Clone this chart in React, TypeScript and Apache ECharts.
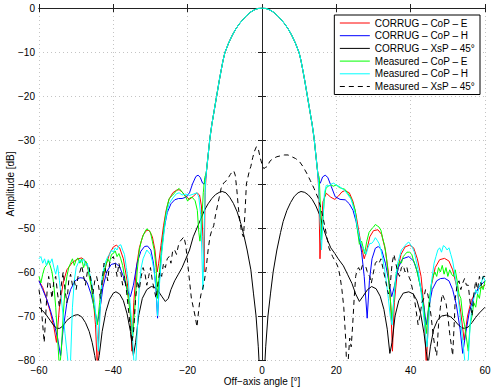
import React, { useEffect, useRef } from "react";
import * as echarts from "echarts";

const X_TICKS = [-60, -40, -20, 0, 20, 40, 60];
const Y_TICKS = [-80, -70, -60, -50, -40, -30, -20, -10, 0];

const SERIES_NAMES = [
  "CORRUG \u2013 CoP \u2013 E",
  "CORRUG \u2013 CoP \u2013 H",
  "CORRUG \u2013 XsP \u2013 45\u00b0",
  "Measured \u2013 CoP \u2013 E",
  "Measured \u2013 CoP \u2013 H",
  "Measured \u2013 XsP \u2013 45\u00b0",
];

// main beam (co-polar), common to the four co-polar curves
const mainBeam: number[][] = [[-15,-37.5],[-14.5,-33.5],[-14,-29.5],[-13.5,-26.5],[-13,-24],[-12.5,-21.5],[-12,-19],[-11.5,-16.5],[-11,-14.2],[-10.5,-12],[-10,-10.2],[-9,-8],[-8,-6.2],[-7,-4.7],[-6,-3.5],[-5,-2.5],[-4,-1.6],[-3,-0.9],[-2,-0.4],[-1,-0.1],[0,0],[1,-0.1],[2,-0.4],[3,-0.9],[4,-1.6],[5,-2.5],[6,-3.5],[7,-4.7],[8,-6.2],[9,-8],[10,-10.2],[10.5,-12],[11,-14.2],[11.5,-16.5],[12,-19],[12.5,-21.5],[13,-24],[13.5,-26.5],[14,-29.5],[14.5,-33.5],[15,-37.5]];

const corrugEL: number[][] = [[-60,-62],[-59,-63.5],[-58,-66],[-57,-69],[-56,-72.5],[-55.3,-76],[-54.5,-68],[-53.5,-62.5],[-52.5,-59.5],[-51,-57.8],[-49.5,-57],[-48.5,-56.8],[-47.5,-57.5],[-46.5,-60],[-45.5,-65],[-44.8,-72],[-44.3,-82],[-43.7,-70],[-43,-63],[-42,-58.5],[-41,-55.8],[-40,-54.3],[-39.2,-53.9],[-38.3,-54.5],[-37.3,-57],[-36.3,-62],[-35.5,-68],[-35,-78],[-34.5,-67],[-33.8,-59],[-33,-54.5],[-32,-51.6],[-31,-50.5],[-30.3,-50.6],[-29.5,-52],[-28.8,-55],[-28.2,-60],[-27.8,-58],[-27.2,-54],[-26.5,-49.5],[-25.8,-46],[-25,-43.5],[-24,-42],[-23,-41.4],[-22.3,-41.3],[-21.5,-41.8],[-20.5,-42.8],[-19.5,-43.5],[-18.5,-42.8],[-17.5,-42],[-16.8,-42.5],[-16.3,-45],[-15.9,-52],[-15.6,-60],[-15.3,-42]];
const corrugER: number[][] = [[15.3,-42],[15.6,-57],[15.9,-50],[16.4,-44],[17.3,-42.1],[18.5,-43],[19.6,-43.5],[20.5,-42.8],[21.5,-41.8],[22.3,-41.5],[23.5,-42],[24.5,-44],[25.3,-47],[26,-50.5],[26.7,-54],[27.5,-57],[28.2,-55],[29,-52],[30,-50.6],[31.2,-50.4],[32.2,-51.5],[33.2,-55],[34,-60],[34.6,-67],[35.1,-78],[35.6,-67],[36.4,-60],[37.4,-56],[38.5,-54.3],[39.7,-53.9],[40.8,-54.5],[41.8,-57],[42.8,-61],[43.6,-68],[44.2,-82],[44.8,-70],[45.6,-63],[46.6,-59],[47.8,-57.2],[49.1,-56.9],[50.3,-57.5],[51.3,-59.5],[52.3,-63],[53.3,-68],[54.4,-75.5],[55.3,-70],[56.3,-66.5],[57.5,-64.5],[58.5,-63.8],[60,-63]];

const corrugHL: number[][] = [[-60,-62],[-59,-64],[-58,-66],[-57,-68.5],[-56,-71.5],[-55,-75],[-54.2,-79],[-53.5,-73],[-52.5,-67],[-51.5,-64],[-50.3,-62],[-49,-61.3],[-48,-61.4],[-47,-62.5],[-46,-65],[-45,-68.5],[-44.3,-71.7],[-43.7,-69],[-42.8,-63.5],[-41.8,-60],[-40.6,-58.3],[-39.4,-58],[-38.3,-58.8],[-37.3,-61],[-36.3,-64],[-35.4,-65.6],[-34.6,-63],[-33.6,-58],[-32.6,-55.3],[-31.6,-54.2],[-30.8,-54.1],[-29.9,-55],[-29.2,-58],[-28.6,-63],[-28.1,-70.5],[-27.6,-62],[-27,-55],[-26.3,-50],[-25.5,-46.5],[-24.5,-44.5],[-23.5,-43.6],[-22.5,-43.3],[-21.5,-43.3],[-20.5,-43],[-19.5,-42],[-18.7,-40],[-17.8,-38.3],[-17.2,-38],[-16.6,-38.5],[-16,-39.8],[-15.6,-40],[-15.3,-39.5]];
const corrugHR: number[][] = [[15.3,-39.5],[15.7,-39.8],[16.3,-38.4],[17,-38],[17.7,-38.5],[18.6,-40.5],[19.7,-42.9],[21,-43.5],[22.4,-43.6],[23.5,-44.5],[24.5,-46],[25.3,-48.5],[26,-51.5],[26.8,-55.5],[27.5,-61],[28.3,-70.5],[28.9,-62],[29.6,-57],[30.5,-54.6],[31.3,-54.2],[32.2,-55],[33.2,-58],[34.2,-62.5],[34.9,-65.6],[35.7,-63],[36.7,-59],[37.8,-57],[39.5,-56.5],[40.8,-57.5],[41.8,-60],[42.8,-64],[43.6,-68],[44.2,-72],[44.9,-68],[45.8,-64],[47,-62],[48,-61.5],[49.1,-61.4],[50.3,-62],[51.3,-64],[52.3,-67.5],[53.3,-73],[54,-78.5],[54.8,-74],[55.8,-69],[57,-65.5],[58.3,-63.5],[60,-62]];

const corrugX: number[][] = [[-60,-68],[-59,-68.8],[-58,-69.8],[-57,-71],[-56,-72.2],[-55.2,-72.8],[-54.4,-72.8],[-53.5,-72.2],[-52.5,-71],[-51.3,-70.2],[-50.3,-69.8],[-49.5,-69.7],[-48.5,-70.2],[-47.5,-71.5],[-46.5,-73.5],[-45.7,-76],[-45,-79],[-44.4,-82],[-43.8,-79],[-43,-73.5],[-42,-69],[-41,-66.2],[-40,-64.8],[-39.3,-64.5],[-38.3,-65],[-37.3,-66.5],[-36.3,-69.5],[-35.4,-73.5],[-34.6,-79],[-34,-76],[-33.2,-70],[-32.2,-66],[-31,-64],[-29.8,-63.3],[-28.8,-63.5],[-28,-64.2],[-27,-65.5],[-26,-66.7],[-25.2,-66],[-24.5,-64],[-23.5,-62],[-22.5,-60.5],[-21.5,-59],[-20.5,-57],[-19.5,-55],[-18.5,-52],[-17.5,-50],[-16.5,-48],[-15.5,-46],[-14.5,-44.5],[-13.5,-43.3],[-12.5,-42.4],[-11.5,-41.9],[-10.7,-41.7],[-9.7,-42],[-8.7,-43],[-7.7,-44.4],[-6.7,-46.3],[-5.7,-49],[-5,-51.2],[-4,-55],[-3,-59.5],[-2.3,-64.8],[-1.6,-70],[-1,-77],[-0.5,-85],[0,-95],[0.5,-85],[1,-77],[1.6,-70],[2.3,-64.8],[3,-60],[4,-55],[5,-51],[5.7,-48.5],[6.7,-46],[7.7,-44.2],[8.7,-42.8],[9.7,-42],[10.5,-41.7],[11.5,-41.9],[12.5,-42.5],[13.5,-43.5],[14.5,-45],[15.5,-47],[16.5,-50],[17.5,-52.5],[18.5,-54.5],[19.6,-55.8],[20.5,-57],[21.9,-58.6],[23,-60.5],[24.2,-62.6],[25.2,-65],[26.2,-66.7],[27.2,-65.5],[28.4,-64],[29.5,-63.3],[30.7,-63.8],[31.8,-65.5],[32.8,-68.5],[33.7,-73],[34.4,-78.5],[35,-76],[35.8,-70],[36.8,-66.5],[38,-64.8],[39.5,-64.5],[40.7,-65],[41.7,-66.5],[42.7,-69.5],[43.6,-74],[44.2,-78],[44.7,-81],[45.3,-77],[46.2,-73],[47.2,-71],[48.3,-70],[49.6,-69.8],[50.8,-70.2],[51.8,-71],[52.8,-72],[53.8,-72.7],[54.5,-72.8],[55.5,-72.5],[56.5,-71.5],[57.5,-70.3],[58.5,-69.3],[60,-68]];

const measEL: number[][] = [[-60,-61],[-59.5,-62.5],[-59,-60.5],[-58.5,-59],[-58,-58.5],[-57.5,-57.5],[-57,-58.5],[-56.5,-60],[-56,-63],[-55.5,-68],[-55,-75],[-54.5,-82],[-54,-78],[-53.5,-70],[-53,-64],[-52.5,-61],[-52,-59],[-51.5,-58],[-51,-57],[-50.5,-58.5],[-50,-57.2],[-49.5,-56.8],[-49,-58],[-48.5,-57],[-48,-59],[-47.5,-57.5],[-47,-58.2],[-46.5,-61],[-46,-63],[-45.5,-66.5],[-45,-69],[-44.3,-72],[-43.7,-67],[-43,-62],[-42.5,-60],[-42,-58.5],[-41.5,-57],[-41,-57.8],[-40.5,-56],[-40,-55.8],[-39.5,-55.2],[-39,-56.5],[-38.5,-55.8],[-38,-57],[-37.5,-58.5],[-37,-61],[-36.5,-63],[-36,-66],[-35.5,-69],[-34.8,-75],[-34.2,-68],[-33.6,-60],[-33,-55],[-32.5,-53],[-32,-51.8],[-31.5,-50.8],[-31,-50.2],[-30.5,-50.5],[-30,-51],[-29.5,-53],[-29,-55],[-28.5,-59],[-28.1,-66],[-27.6,-60],[-27,-55],[-26.5,-51],[-26,-47.5],[-25.5,-45],[-25,-43.3],[-24,-42.5],[-23,-41.5],[-22.3,-41],[-21.5,-41.8],[-20.5,-43],[-20,-43.9],[-19.5,-43.2],[-18.8,-43],[-18,-43.8],[-17.4,-46],[-17,-51],[-16.7,-53],[-16.3,-50],[-15.8,-42],[-15.4,-38.5]];
const measER: number[][] = [[15.4,-38.5],[15.7,-45],[16,-52.7],[16.4,-48],[16.8,-43],[17.2,-41],[17.8,-40.5],[18.5,-40.2],[19.2,-40.5],[20,-40.2],[20.8,-40.8],[21.5,-41],[22.3,-41.2],[23,-42],[23.8,-43],[24.5,-44.5],[25.1,-46],[25.6,-50],[26.2,-53.7],[26.8,-53],[27.6,-55.8],[28.2,-53],[28.8,-51],[29.5,-50.2],[30,-49.8],[30.5,-49.2],[31,-49.5],[31.5,-49.8],[32,-50.5],[32.5,-52.5],[33,-54],[33.5,-57],[34,-61],[34.5,-66],[35,-71],[35.5,-66],[36,-61],[36.5,-59],[37,-57.5],[37.5,-58],[38,-56.5],[38.5,-56],[39,-55.5],[39.7,-55.5],[40.3,-56],[40.8,-57.5],[41.3,-58.5],[42,-61],[42.8,-64],[43.5,-68],[44.2,-74],[44.8,-68],[45.5,-63],[46,-61],[46.5,-60],[47,-61],[47.5,-59],[48,-60],[48.5,-58.5],[49,-60.5],[49.5,-59],[50,-61],[50.5,-59.5],[51,-60.5],[51.5,-61],[52,-59.5],[52.5,-62],[53,-65],[53.5,-66],[54,-70],[54.5,-72],[55,-75],[55.5,-78],[56,-72],[56.5,-70],[57,-67],[57.5,-68],[58,-65],[58.5,-66],[59,-63],[59.5,-64],[60,-62]];

const measHL: number[][] = [[-60,-57],[-59.5,-56.5],[-59,-58],[-58.5,-57],[-58,-58.5],[-57.5,-57.2],[-57,-58],[-56.5,-57],[-56,-59],[-55.5,-60.5],[-55,-58.5],[-54.5,-62],[-54,-66],[-53.5,-70],[-53,-74],[-52.5,-78],[-52,-82],[-51.5,-80],[-51,-68],[-50.5,-62],[-50,-59],[-49.5,-58],[-49,-57.2],[-48.5,-57.8],[-48,-57],[-47.5,-58.5],[-47,-58],[-46.5,-60],[-46,-61.5],[-45.5,-64],[-45,-67],[-44.5,-72],[-44,-78],[-43.5,-68],[-43,-61],[-42.5,-59],[-42,-57.5],[-41.5,-56.5],[-41,-56],[-40.5,-55],[-40,-55.5],[-39.5,-54.5],[-39,-55],[-38.5,-54],[-38,-53.8],[-37.5,-55],[-37,-56],[-36.5,-59],[-36,-62],[-35.5,-67],[-35,-72],[-34.5,-80],[-34,-82],[-33.5,-72],[-33,-63],[-32.5,-59],[-32,-57],[-31.5,-56],[-31,-55],[-30.5,-55.5],[-30,-56],[-29.5,-57.5],[-29,-60],[-28.5,-64],[-28.1,-70],[-27.6,-63],[-27,-56],[-26.5,-52],[-26,-48.5],[-25.5,-46],[-25,-44.5],[-24,-43.2],[-23,-42.2],[-22.3,-42],[-21.5,-42.5],[-20.5,-42.3],[-19.5,-42.6],[-18.5,-42.3],[-17.5,-42],[-17,-43],[-16.5,-47],[-16.2,-55],[-15.9,-64],[-15.5,-48],[-15.2,-39.5]];
const measHR: number[][] = [[15.2,-39.5],[15.6,-48],[16,-55],[16.4,-48],[16.8,-42],[17.3,-40.3],[18,-40.5],[18.7,-40],[19.3,-39.8],[20,-40.3],[20.7,-40.5],[21.5,-41],[22.3,-41.5],[23,-42.3],[24,-43.5],[25,-46.5],[25.6,-49.5],[26.2,-52],[26.8,-54],[27.5,-55],[28,-56],[28.5,-54.5],[29,-53.5],[29.5,-53.5],[30,-53],[30.5,-52.2],[31,-52.8],[31.5,-53.5],[32,-55],[32.5,-57],[33,-59.5],[33.5,-62.5],[34,-66],[34.5,-70],[35,-72],[35.5,-66],[36,-61],[36.5,-58],[37,-56.5],[37.5,-55],[38,-54.5],[38.5,-54],[39,-53.5],[39.5,-53.2],[40,-53.8],[40.5,-54.5],[41,-55.5],[41.5,-57.5],[42,-59.5],[42.5,-62.5],[43,-66],[43.5,-70],[44,-74],[44.4,-77],[44.8,-72],[45.3,-65],[45.8,-61],[46.3,-58],[46.8,-56.5],[47.3,-55],[47.8,-54.5],[48.3,-55.5],[48.8,-54],[49.3,-54.3],[49.8,-55],[50.3,-54.5],[50.8,-56],[51.3,-57.5],[51.8,-60],[52.3,-63],[52.8,-66],[53.3,-70],[53.8,-74],[54.3,-78],[54.8,-82],[55.5,-80],[56,-72],[56.5,-68],[57,-66],[57.5,-64],[58,-65],[58.5,-63],[59,-62.5],[59.5,-61],[60,-62]];

const measX: number[][] = [[-60,-64],[-59.5,-67],[-59,-72],[-58.6,-76],[-58.2,-70],[-57.8,-64],[-57.4,-61],[-57,-63],[-56.5,-66],[-56,-62],[-55.5,-61],[-55,-65],[-54.5,-68],[-54,-63],[-53.5,-60],[-53,-64],[-52.5,-67],[-52,-62],[-51.5,-60.5],[-51,-63],[-50.5,-62],[-50,-64],[-49.5,-61],[-49,-60],[-48.5,-58.5],[-48,-61],[-47.5,-63],[-47,-60],[-46.5,-59],[-46,-62],[-45.5,-65],[-45,-62],[-44.5,-61],[-44,-63],[-43.5,-66],[-43,-62],[-42.5,-58],[-42,-60],[-41.5,-62],[-41,-58],[-40.5,-57],[-40,-56.5],[-39.5,-58],[-39,-61],[-38.5,-58],[-38,-60],[-37.5,-63],[-37,-61],[-36.5,-64],[-36,-68],[-35.5,-72],[-35,-76],[-34.5,-73],[-34,-66],[-33.5,-62],[-33,-64],[-32.5,-61],[-32,-59],[-31.5,-60.3],[-31,-63],[-30.5,-61],[-30,-59],[-29.5,-62],[-29,-64],[-28.5,-66],[-28,-62.5],[-27.5,-60],[-27,-61],[-26.5,-58],[-26,-59],[-25.5,-57],[-25,-56.5],[-24.5,-58],[-24,-55],[-23.5,-55],[-23,-56],[-22.5,-54],[-22,-53],[-21.5,-52.5],[-21,-52],[-20.5,-54],[-20,-58],[-19.5,-62],[-19,-66],[-18.5,-68],[-18,-70],[-17.5,-72.5],[-17.2,-70],[-16.8,-67],[-16.4,-65],[-16,-64],[-15.5,-62],[-15,-59],[-14.5,-55],[-14,-52],[-13.5,-50.5],[-13,-49.5],[-12.5,-47],[-12,-45],[-11.5,-43],[-11,-41],[-10.5,-40],[-10,-39.5],[-9.5,-39.2],[-9,-38.5],[-8.5,-37.8],[-8,-37.2],[-7.6,-37],[-7.2,-38],[-6.8,-41],[-6.4,-45],[-6,-48],[-5.5,-51],[-5,-52],[-4.6,-47],[-4.2,-40],[-3.8,-38.5],[-3.4,-37],[-3,-36],[-2.5,-34],[-2,-32.5],[-1.5,-31.5],[-1,-32],[-0.5,-34],[0,-35.5],[0.5,-36.5],[1,-36.2],[1.5,-36],[2,-35],[2.5,-34.5],[3,-34.2],[3.5,-34],[4,-33.8],[5,-33.6],[6,-33.4],[7,-33.4],[8,-33.8],[9,-34.2],[10,-34.8],[11,-36],[12,-37.5],[13,-39.2],[14,-41],[15,-43],[16,-46],[17,-50],[18,-54.5],[19,-56.5],[20,-58],[20.5,-59],[21,-61],[21.5,-64],[22,-68],[22.5,-75],[22.8,-82],[23.2,-80],[23.6,-75],[24,-77],[24.4,-72],[24.8,-66],[25.2,-61],[25.6,-59.5],[26,-59],[26.5,-60],[27,-58.5],[27.5,-58.4],[28,-59],[28.5,-60.5],[29,-61],[29.4,-62.6],[30,-60],[30.5,-58],[31,-57.5],[31.5,-58],[32,-57],[32.5,-59],[33,-61],[33.5,-63],[34,-65],[34.5,-63],[35,-58],[35.5,-56],[36,-58],[36.5,-60],[37,-61],[37.5,-59],[38,-58.5],[38.5,-60],[39,-59],[39.5,-61],[40,-62],[40.5,-64],[41,-66],[41.5,-69],[42,-72],[42.5,-70],[43,-67],[43.5,-66],[44,-64],[44.6,-65],[45,-67],[45.5,-70],[46,-74],[46.5,-77],[47,-79],[47.5,-72],[48,-68],[48.5,-65],[49,-66],[49.5,-67],[50,-70],[50.5,-74],[51,-77],[51.3,-79],[51.7,-72],[52,-66],[52.5,-63],[53,-62],[53.5,-64],[54,-62.5],[54.5,-61.5],[55,-63],[55.5,-63],[56,-67],[56.5,-70],[57,-65],[57.5,-62],[58,-64],[58.5,-61],[59,-63],[59.5,-61],[60,-61]];

const COLORS = ["#ff0000", "#0000ff", "#000000", "#00ff00", "#00ffff", "#000000"];

const FONT = "'Liberation Sans', Arial, Helvetica, sans-serif";
const fmt = (v: number) => String(v).replace("-", "\u2212");

export default function App() {
  const ref = useRef<HTMLDivElement>(null);
  useEffect(() => {
    if (!ref.current) return;
    const chart = echarts.init(ref.current, null, { renderer: "svg" });
    const datasets = [
      [...corrugEL, ...mainBeam, ...corrugER],
      [...corrugHL, ...mainBeam, ...corrugHR],
      corrugX,
      [...measEL, ...mainBeam, ...measER],
      [...measHL, ...mainBeam, ...measHR],
      measX,
    ];
    const axisLine = { show: true, lineStyle: { color: "#222", width: 1 } };
    const tick = { show: true, inside: true, length: 4, lineStyle: { color: "#222" } };
    chart.setOption({
      animation: false,
      backgroundColor: "#fff",
      textStyle: { fontFamily: FONT },
      grid: { left: 39, right: 10, top: 8, bottom: 31, containLabel: false, outerBoundsMode: "none" },
      xAxis: [
        {
          type: "value", min: -60, max: 60, interval: 20,
          axisLine, axisTick: tick,
          axisLabel: { margin: 5, fontSize: 10, color: "#000", fontFamily: FONT, formatter: (v: number) => X_TICKS.includes(v) ? fmt(v) : "" },
          splitLine: { show: true, lineStyle: { color: "#c4c4c4", type: [1, 3], width: 1 } },
          name: "Off\u2212axis angle [\u00b0]", nameLocation: "middle", nameGap: 16, nameMoveOverlap: false,
          nameTextStyle: { fontSize: 10, color: "#000", fontFamily: FONT },
        },
        {
          type: "value", min: -60, max: 60, interval: 20, position: "top",
          axisLine, axisTick: tick, axisLabel: { show: false }, splitLine: { show: false },
        },
      ],
      yAxis: [
        {
          type: "value", min: -80, max: 0, interval: 10,
          axisLine, axisTick: tick,
          axisLabel: { margin: 4, fontSize: 10, color: "#000", fontFamily: FONT, formatter: (v: number) => Y_TICKS.includes(v) ? fmt(v) : "" },
          splitLine: { show: true, lineStyle: { color: "#c4c4c4", type: [1, 3], width: 1 } },
          name: "Amplitude [dB]", nameLocation: "middle", nameGap: 24, nameRotate: 90, nameMoveOverlap: false,
          nameTextStyle: { fontSize: 10, color: "#000", fontFamily: FONT },
        },
        {
          type: "value", min: -80, max: 0, interval: 10, position: "right",
          axisLine, axisTick: tick, axisLabel: { show: false }, splitLine: { show: false },
        },
      ],
      legend: {
        orient: "vertical",
        right: 15,
        top: 15,
        padding: [3, 5, 3, 5],
        itemWidth: 30,
        itemHeight: 10,
        itemGap: 2.7,
        borderColor: "#000",
        borderWidth: 1,
        backgroundColor: "#fff",
        itemStyle: { opacity: 0 },
        lineStyle: { width: 1 },
        textStyle: { fontSize: 10, color: "#000", fontFamily: FONT },
        data: SERIES_NAMES,
        z: 10,
      },
      series: SERIES_NAMES.map((name, i) => ({
        name,
        type: "line",
        data: datasets[i],
        showSymbol: false,
        symbol: "none",
        clip: true,
        xAxisIndex: 0,
        yAxisIndex: 0,
        lineStyle: { color: COLORS[i], width: 1, type: i === 5 ? [5, 4] : "solid" },
        itemStyle: { color: COLORS[i] },
        emphasis: { disabled: true },
      })),
    });
    return () => chart.dispose();
  }, []);
  return <div ref={ref} style={{ width: 495, height: 391, position: "absolute", left: 0, top: 0 }} />;
}
